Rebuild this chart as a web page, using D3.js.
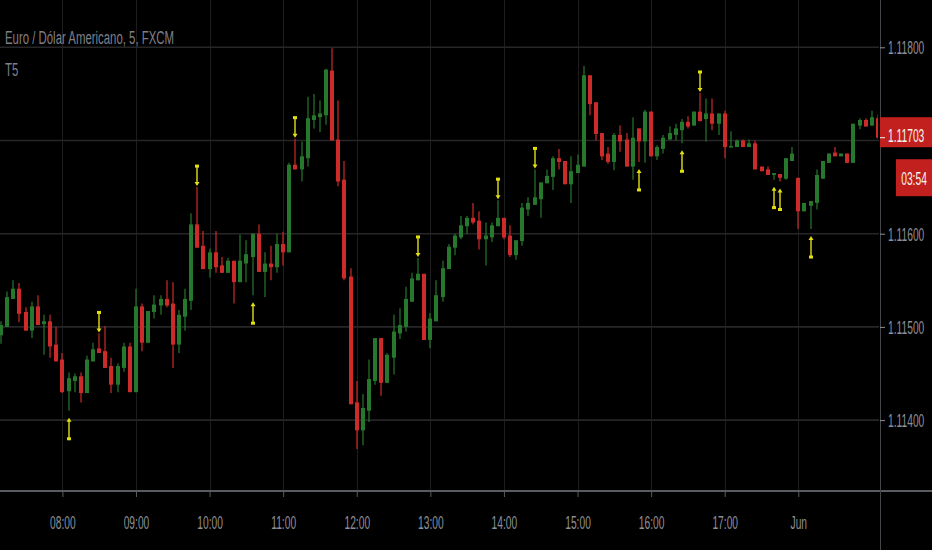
<!DOCTYPE html>
<html><head><meta charset="utf-8">
<script src="https://cdnjs.cloudflare.com/ajax/libs/d3/7.8.5/d3.min.js"></script>
<style>html,body{margin:0;padding:0;background:#000;overflow:hidden}</style>
</head><body><svg id="c" width="932" height="550"></svg>
<script>
const title = "Euro / Dólar Americano, 5, FXCM";
const subtitle = "T5";
const times = [
"07:10","07:15","07:20","07:25","07:30","07:35","07:40","07:45","07:50","07:55",
"08:00","08:05","08:10","08:15","08:20","08:25","08:30","08:35","08:40","08:45","08:50","08:55",
"09:00","09:05","09:10","09:15","09:20","09:25","09:30","09:35","09:40","09:45","09:50","09:55",
"10:00","10:05","10:10","10:15","10:20","10:25","10:30","10:35","10:40","10:45","10:50","10:55",
"11:00","11:05","11:10","11:15","11:20","11:25","11:30","11:35","11:40","11:45","11:50","11:55",
"12:00","12:05","12:10","12:15","12:20","12:25","12:30","12:35","12:40","12:45","12:50","12:55",
"13:00","13:05","13:10","13:15","13:20","13:25","13:30","13:35","13:40","13:45","13:50","13:55",
"14:00","14:05","14:10","14:15","14:20","14:25","14:30","14:35","14:40","14:45","14:50","14:55",
"15:00","15:05","15:10","15:15","15:20","15:25","15:30","15:35","15:40","15:45","15:50","15:55",
"16:00","16:05","16:10","16:15","16:20","16:25","16:30","16:35","16:40","16:45","16:50","16:55",
"17:00","17:05","17:10","17:15","17:20","17:25","17:30","17:35","17:40","17:45","17:50","17:55",
"18:00","18:05","18:10","18:15","18:20","18:25","18:30","18:35","18:40","18:45","18:50","18:55",
"19:00","19:05"];
const open = [
1.11491,1.11500,1.11530,1.11541,1.11516,1.11496,1.11522,1.11503,1.11506,1.11481,
1.11465,1.11431,1.11442,1.11447,1.11429,1.11463,1.11477,1.11474,1.11458,1.11438,1.11456,1.11479,
1.11430,1.11522,1.11483,1.11516,1.11523,1.11530,1.11525,1.11481,1.11511,1.11528,1.11610,1.11587,
1.11562,1.11580,1.11566,1.11558,1.11571,1.11548,1.11568,1.11575,1.11600,1.11559,1.11568,1.11564,
1.11589,1.11580,1.11674,1.11669,1.11681,1.11722,1.11725,1.11727,1.11775,1.11701,1.11658,1.11554,
1.11419,1.11389,1.11410,1.11442,1.11488,1.11440,1.11467,1.11493,1.11500,1.11527,1.11550,1.11557,
1.11486,1.11506,1.11532,1.11562,1.11585,1.11596,1.11608,1.11617,1.11614,1.11594,1.11596,1.11608,
1.11617,1.11598,1.11577,1.11592,1.11626,1.11631,1.11637,1.11654,1.11661,1.11681,1.11678,1.11653,
1.11665,1.11672,1.11770,1.11741,1.11708,1.11686,1.11677,1.11706,1.11701,1.11672,1.11713,1.11699,
1.11731,1.11683,1.11691,1.11701,1.11706,1.11711,1.11720,1.11716,1.11731,1.11723,1.11729,1.11718,
1.11729,1.11693,1.11693,1.11700,1.11693,1.11697,1.11672,1.11669,1.11663,1.11664,1.11659,1.11678,
1.11660,1.11624,1.11630,1.11633,1.11659,1.11676,1.11687,1.11683,1.11686,1.11676,1.11716,1.11722,
1.11716,1.11724];
const high = [
1.11506,1.11538,1.11550,1.11547,1.11521,1.11527,1.11534,1.11513,1.11513,1.11500,
1.11472,1.11451,1.11450,1.11451,1.11469,1.11483,1.11493,1.11501,1.11467,1.11461,1.11483,1.11483,
1.11541,1.11525,1.11517,1.11534,1.11534,1.11550,1.11548,1.11518,1.11541,1.11622,1.11650,1.11603,
1.11584,1.11603,1.11575,1.11574,1.11571,1.11599,1.11593,1.11600,1.11610,1.11580,1.11587,1.11600,
1.11602,1.11676,1.11702,1.11699,1.11747,1.11750,1.11743,1.11777,1.11799,1.11743,1.11678,1.11563,
1.11442,1.11428,1.11465,1.11488,1.11488,1.11472,1.11513,1.11520,1.11543,1.11558,1.11574,1.11557,
1.11515,1.11550,1.11571,1.11589,1.11600,1.11619,1.11619,1.11633,1.11624,1.11612,1.11612,1.11636,
1.11617,1.11609,1.11593,1.11633,1.11639,1.11669,1.11655,1.11669,1.11683,1.11691,1.11678,1.11683,
1.11685,1.11780,1.11770,1.11741,1.11708,1.11693,1.11708,1.11716,1.11708,1.11725,1.11713,1.11733,
1.11731,1.11695,1.11706,1.11715,1.11718,1.11723,1.11726,1.11731,1.11751,1.11745,1.11745,1.11729,
1.11732,1.11710,1.11701,1.11701,1.11701,1.11700,1.11672,1.11672,1.11665,1.11664,1.11681,1.11693,
1.11660,1.11633,1.11635,1.11669,1.11678,1.11686,1.11693,1.11686,1.11686,1.11718,1.11724,1.11724,
1.11732,1.11728];
const low = [
1.11482,1.11500,1.11530,1.11505,1.11496,1.11488,1.11502,1.11470,1.11467,1.11463,
1.11429,1.11410,1.11430,1.11419,1.11429,1.11463,1.11472,1.11456,1.11429,1.11430,1.11452,1.11430,
1.11430,1.11474,1.11483,1.11509,1.11513,1.11521,1.11456,1.11472,1.11496,1.11518,1.11585,1.11562,
1.11553,1.11558,1.11558,1.11558,1.11525,1.11548,1.11548,1.11534,1.11559,1.11532,1.11550,1.11558,
1.11566,1.11580,1.11669,1.11656,1.11672,1.11713,1.11709,1.11717,1.11700,1.11651,1.11550,1.11417,
1.11369,1.11373,1.11398,1.11438,1.11426,1.11440,1.11449,1.11487,1.11495,1.11527,1.11550,1.11486,
1.11477,1.11506,1.11527,1.11562,1.11577,1.11594,1.11600,1.11610,1.11583,1.11566,1.11591,1.11608,
1.11594,1.11575,1.11572,1.11587,1.11619,1.11631,1.11617,1.11654,1.11647,1.11669,1.11653,1.11633,
1.11665,1.11672,1.11727,1.11700,1.11679,1.11675,1.11668,1.11688,1.11672,1.11658,1.11677,1.11676,
1.11683,1.11679,1.11686,1.11701,1.11700,1.11697,1.11713,1.11716,1.11720,1.11699,1.11711,1.11706,
1.11681,1.11693,1.11693,1.11693,1.11693,1.11669,1.11667,1.11663,1.11658,1.11656,1.11658,1.11678,
1.11605,1.11624,1.11605,1.11626,1.11659,1.11676,1.11683,1.11683,1.11676,1.11676,1.11712,1.11715,
1.11716,1.11702];
const close = [
1.11502,1.11532,1.11541,1.11514,1.11496,1.11522,1.11502,1.11506,1.11479,1.11463,
1.11430,1.11445,1.11447,1.11429,1.11465,1.11476,1.11472,1.11456,1.11438,1.11458,1.11479,1.11430,
1.11522,1.11483,1.11517,1.11524,1.11530,1.11523,1.11481,1.11513,1.11530,1.11610,1.11585,1.11562,
1.11580,1.11564,1.11558,1.11571,1.11548,1.11571,1.11578,1.11600,1.11559,1.11568,1.11564,1.11589,
1.11580,1.11674,1.11669,1.11683,1.11724,1.11727,1.11729,1.11776,1.11700,1.11656,1.11552,1.11417,
1.11389,1.11413,1.11444,1.11488,1.11440,1.11470,1.11495,1.11502,1.11530,1.11552,1.11557,1.11486,
1.11509,1.11534,1.11563,1.11586,1.11598,1.11609,1.11617,1.11612,1.11594,1.11598,1.11609,1.11617,
1.11596,1.11577,1.11593,1.11628,1.11633,1.11639,1.11655,1.11662,1.11681,1.11677,1.11653,1.11667,
1.11674,1.11770,1.11739,1.11707,1.11683,1.11677,1.11706,1.11699,1.11672,1.11703,1.11699,1.11731,
1.11683,1.11693,1.11703,1.11708,1.11713,1.11720,1.11715,1.11731,1.11721,1.11729,1.11718,1.11729,
1.11693,1.11694,1.11700,1.11693,1.11697,1.11669,1.11667,1.11663,1.11665,1.11660,1.11681,1.11686,
1.11624,1.11633,1.11635,1.11663,1.11678,1.11686,1.11683,1.11686,1.11676,1.11718,1.11722,1.11715,
1.11725,1.11703];
const downArrowTimes = ["08:30","09:50","11:10","12:50","13:55","14:25","16:40"];
const upArrowTimes = ["08:05","10:35","15:50","16:25","17:40","17:45","18:10"];
const hourTicks = ["08:00","09:00","10:00","11:00","12:00","13:00","14:00","15:00","16:00","17:00","18:00"];
const hourLabels = ["08:00","09:00","10:00","11:00","12:00","13:00","14:00","15:00","16:00","17:00","Jun"];
const priceGrid = [1.114,1.115,1.116,1.117,1.118];
const priceTickLabels = [1.114,1.115,1.116,1.118];
const lastPrice = 1.11703;
const countdown = "03:54";

const W = 932, H = 550, plotW = 879, plotH = 490;
const GREEN = "#26782c", RED = "#cd2a2a", YEL = "#e2de12";
const AX = "#8e8f96", FONT = "Liberation Sans, Arial, sans-serif";
const SX = 0.57;

const toMin = s => +s.slice(0,2)*60 + +s.slice(3);
const x = d3.scaleLinear().domain([toMin("08:00"), toMin("18:00")]).range([62.4, 798.3]);
const y = d3.scaleLinear().domain([1.114, 1.118]).range([420.1, 47.3]);

const bars = times.map((t,i)=>({t, m: toMin(t), o: open[i], h: high[i], l: low[i], c: close[i]}));
const byTime = new Map(bars.map(b=>[b.t,b]));

const svg = d3.select("#c");
svg.append("rect").attr("width",W).attr("height",H).attr("fill","#000");
svg.append("defs").append("clipPath").attr("id","plot")
  .append("rect").attr("x",0).attr("y",0).attr("width",plotW - 1).attr("height",plotH);

const grid = svg.append("g");
grid.selectAll("line.v").data(hourTicks).join("line")
  .attr("x1",d=>Math.round(x(toMin(d)))+0.5).attr("x2",d=>Math.round(x(toMin(d)))+0.5)
  .attr("y1",0).attr("y2",plotH).attr("stroke","#1d1d1f").attr("stroke-width",1);
grid.selectAll("line.h").data(priceGrid).join("line")
  .attr("x1",0).attr("x2",plotW).attr("y1",d=>y(d)).attr("y2",d=>y(d))
  .attr("stroke","#262628").attr("stroke-width",1.6);

const plot = svg.append("g").attr("clip-path","url(#plot)");
const cg = plot.selectAll("g.c").data(bars).join("g");
const bw = 4;
cg.append("line")
  .attr("x1",d=>Math.round(x(d.m))).attr("x2",d=>Math.round(x(d.m)))
  .attr("y1",d=>y(d.h)).attr("y2",d=>y(d.l))
  .attr("stroke",d=>d.c>=d.o?GREEN:RED).attr("stroke-width",1.2);
cg.append("rect")
  .attr("x",d=>Math.round(x(d.m))-bw/2).attr("width",bw)
  .attr("y",d=>y(Math.max(d.o,d.c)))
  .attr("height",d=>Math.max(1.5, Math.abs(y(d.o)-y(d.c))))
  .attr("fill",d=>d.c>=d.o?GREEN:RED);

// arrows
const ag = plot.append("g");
downArrowTimes.forEach(t=>{
  const b = byTime.get(t); const cx = Math.round(x(b.m));
  const tip = y(b.h) - 1, tail = tip - 20;
  ag.append("line").attr("x1",cx).attr("x2",cx).attr("y1",tail).attr("y2",tip-2)
    .attr("stroke",YEL).attr("stroke-width",1.4);
  ag.append("path").attr("d",`M${cx-2.5},${tip-4}L${cx+2.5},${tip-4}L${cx},${tip}Z`).attr("fill",YEL);
  ag.append("rect").attr("x",cx-2).attr("y",tail-1.5).attr("width",4).attr("height",3).attr("fill",YEL);
});
upArrowTimes.forEach(t=>{
  const b = byTime.get(t); const cx = Math.round(x(b.m));
  const tip = y(b.l) + 7, tail = tip + 21;
  ag.append("line").attr("x1",cx).attr("x2",cx).attr("y1",tip+2).attr("y2",tail)
    .attr("stroke",YEL).attr("stroke-width",1.4);
  ag.append("path").attr("d",`M${cx-2.5},${tip+4}L${cx+2.5},${tip+4}L${cx},${tip}Z`).attr("fill",YEL);
  ag.append("rect").attr("x",cx-2).attr("y",tail-1.5).attr("width",4).attr("height",3).attr("fill",YEL);
});

// bottom axis
const xa = svg.append("g").attr("transform",`translate(0,${plotH})`)
  .call(d3.axisBottom(x).tickValues(hourTicks.map(toMin)).tickFormat((d,i)=>hourLabels[i]).tickSize(7).tickPadding(0));
xa.select(".domain").remove();
xa.selectAll(".tick line").attr("stroke","#5a5c63").attr("stroke-width",1);
xa.selectAll(".tick text").attr("fill",AX).attr("font-family",FONT).attr("font-size",18)
  .attr("y",33).attr("dy","0.35em").attr("transform",`scale(${SX},1)`);
svg.append("line").attr("x1",0).attr("x2",W).attr("y1",plotH+1).attr("y2",plotH+1)
  .attr("stroke","#5a5c63").attr("stroke-width",2);

// right axis
svg.append("line").attr("x1",plotW+1.5).attr("x2",plotW+1.5).attr("y1",0).attr("y2",H)
  .attr("stroke","#45464c").attr("stroke-width",1);
const ya = svg.append("g").attr("transform",`translate(${plotW+1},0)`)
  .call(d3.axisRight(y).tickValues(priceTickLabels).tickFormat(d3.format(".5f")).tickSize(5).tickPadding(0));
ya.select(".domain").remove();
ya.selectAll(".tick line").attr("stroke",AX);
ya.selectAll(".tick text").attr("fill",AX).attr("font-family",FONT).attr("font-size",18)
  .attr("x",8/SX).attr("dy","0.35em").attr("transform",`scale(${SX},1)`);

// last price label
const py = y(lastPrice);
svg.append("rect").attr("x",plotW+1).attr("y",py-20.5).attr("width",W-plotW-1).attr("height",30).attr("fill","#c1201f");
svg.append("line").attr("x1",plotW+1).attr("x2",plotW+6).attr("y1",py).attr("y2",py).attr("stroke","#f4f4ec");
svg.append("text").attr("transform",`translate(${plotW+9},${py-2.5}) scale(${SX},1)`)
  .attr("dy","0.35em").attr("fill","#f4f4ec").attr("font-family",FONT).attr("font-size",18)
  .text(d3.format(".5f")(lastPrice));
svg.append("rect").attr("x",896).attr("y",py+21.5).attr("width",W-896).attr("height",37).attr("fill","#c1201f");
svg.append("text").attr("transform",`translate(914,${py+40.5}) scale(${SX},1)`)
  .attr("dy","0.35em").attr("text-anchor","middle").attr("fill","#f4f4ec").attr("font-family",FONT).attr("font-size",18)
  .text(countdown);

// title
svg.append("text").attr("transform",`translate(5,44) scale(0.6,1)`)
  .attr("fill","#7e7f88").attr("font-family",FONT).attr("font-size",19).text(title);
svg.append("text").attr("transform",`translate(5,76) scale(0.6,1)`)
  .attr("fill","#7e7f88").attr("font-family",FONT).attr("font-size",19).text(subtitle);
</script></body></html>
